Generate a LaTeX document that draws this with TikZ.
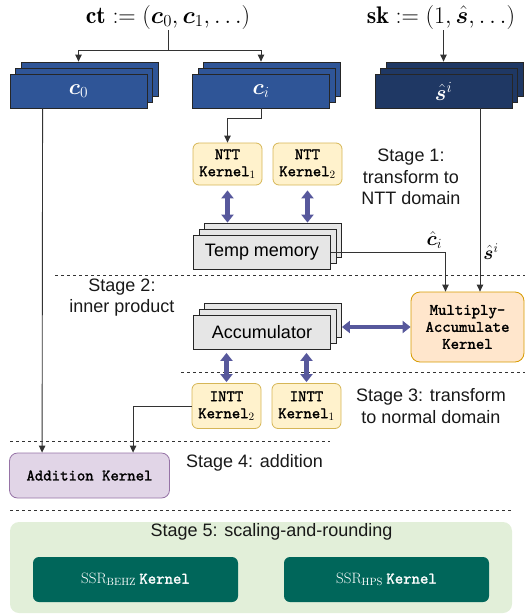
\RequirePackage{fix-cm}
\documentclass[tikz,border=0pt]{standalone}
\usepackage{amsmath,bm}
\usepackage{fontspec}
\newfontfamily\stagefont{Liberation Sans}
\newfontfamily\kernelmono{lmmono10-regular.otf}[FakeBold=1.6]
\usepackage{tikz}
\usetikzlibrary{arrows.meta}
\usetikzlibrary{shadows}
\usetikzlibrary{calc}
\usetikzlibrary{positioning}

\definecolor{ctblue}{HTML}{2F5597}
\definecolor{skblue}{HTML}{1F3864}
\definecolor{nttfill}{HTML}{FFF2CC}
\definecolor{nttdraw}{HTML}{D6B656}
\definecolor{macfill}{HTML}{FFE6CC}
\definecolor{macdraw}{HTML}{D79B00}
\definecolor{addfill}{HTML}{E1D5E7}
\definecolor{adddraw}{HTML}{9673A6}
\definecolor{stagegreen}{HTML}{E2EFD9}
\definecolor{ssrgreen}{HTML}{00665A}
\definecolor{memgray}{HTML}{E6E6E6}
\definecolor{dblblue}{HTML}{57589C}

\newcommand{\kernelfont}{\fontsize{16}{17}\selectfont\kernelmono}

\tikzset{
  title/.style={font=\fontsize{24}{26}\selectfont, inner sep=1pt},
  stack/.style={draw=black!85, line width=0.8pt, minimum width=137pt, minimum height=34pt,
    inner sep=0pt, text=white, font=\fontsize{22}{24}\selectfont,
    copy shadow={shadow xshift=11pt, shadow yshift=12pt},
    copy shadow={shadow xshift=5.5pt, shadow yshift=6pt}},
  memory/.style={stack, fill=memgray, text=black, font=\stagefont\fontsize{18}{21}\selectfont},
  kernel/.style={draw=nttdraw, fill=nttfill, rounded corners=6pt, line width=0.8pt,
    align=center, inner sep=0pt, minimum width=69pt, font=\kernelfont},
  stage/.style={align=center, inner sep=0pt, text=black!90, font=\stagefont\fontsize{18}{21.5}\selectfont},
  ssr/.style={fill=ssrgreen, rounded corners=6pt, minimum width=205pt, minimum height=45pt,
    text=white, inner sep=0pt},
  conn/.style={draw=black!80, line width=0.9pt},
  dbl/.style={draw=dblblue, line width=4.5pt,
    {Triangle[length=8pt,width=12pt]}-{Triangle[length=8pt,width=12pt]}},
  sep/.style={draw=black!80, line width=0.8pt, dash pattern=on 3pt off 3pt}
}

\begin{document}
\begin{tikzpicture}[x=1pt, y=-1pt, >={Triangle[length=7pt,width=6.5pt]}]
    \useasboundingbox (0,0) rectangle (525,614);

    % ciphertext and secret key
    \node[title] (ct) at (168,17) {$\mathbf{ct} := (\bm{c}_0, \bm{c}_1, \ldots)$};
    \node[title] (sk) at (441,17) {$\mathbf{sk} := (1, \hat{\bm{s}}, \ldots)$};

    % polynomial stacks
    \node[stack, fill=ctblue] (c0) at (78.5,91) {$\bm{c}_0$};
    \node[stack, fill=ctblue] (ci) at (261,91) {$\bm{c}_i$};
    \node[stack, fill=skblue] (si) at (443.5,91) {$\hat{\bm{s}}^i$};

    % stage 1: NTT
    \node[kernel, minimum height=42pt] (ntt1) at (227.5,164) {NTT\\Kernel$_1$};
    \node[kernel, minimum height=42pt] (ntt2) at (307.5,164) {NTT\\Kernel$_2$};
    \node[memory] (temp) at (262,252) {Temp memory};
    \node[stage] (st1) at (411,177) {Stage 1:\\transform to\\NTT domain};

    % stage 2: inner product
    \node[memory] (acc) at (262,332.5) {Accumulator};
    \node[kernel, draw=macdraw, fill=macfill, rounded corners=9pt, minimum width=113pt,
      minimum height=70pt] (mac) at (467.5,327) {Multiply-\\Accumulate\\Kernel};
    \node[stage] (st2) at (122,297.5) {Stage 2:\\inner product};

    % stage 3: INTT
    \node[kernel, minimum height=45pt] (intt2) at (226.5,406) {INTT\\Kernel$_2$};
    \node[kernel, minimum height=45pt] (intt1) at (306.5,406) {INTT\\Kernel$_1$};
    \node[stage] (st3) at (431,406) {Stage 3: transform\\to normal domain};

    % stage 4: addition
    \node[kernel, draw=adddraw, fill=addfill, rounded corners=8pt, minimum width=160pt,
      minimum height=45pt] (addk) at (89.5,475.5) {Addition Kernel};
    \node[stage, anchor=west] (st4) at (186,463) {Stage 4: addition};

    % stage 5: scaling and rounding
    \fill[stagegreen, rounded corners=9pt] (10,522) rectangle (512,613);
    \node[stage] (st5) at (271.5,532) {Stage 5: scaling-and-rounding};
    \node[ssr] (behz) at (135.5,579.5) {{\fontsize{15}{17}\selectfont$\mathrm{SSR}_{\mathrm{BEHZ}}$} {\kernelfont Kernel}};
    \node[ssr] (hps) at (386.5,579.5) {{\fontsize{15}{17}\selectfont$\mathrm{SSR}_{\mathrm{HPS}}$} {\kernelfont Kernel}};

    % stage separators
    \draw[sep] (55,275) -- (525,275);
    \draw[sep] (181,372) -- (525,372);
    \draw[sep] (10,441) -- (330,441);
    \draw[sep] (10,510) -- (512,510);

    % data flow
    \coordinate (split) at ($(c0.north -| ct.south)+(0,-23)$);
    \draw[conn] (ct.south) -- (split);
    \draw[conn,->] (split) -| ($(c0.north)+(0,-12)$);
    \draw[conn,->] (split) -| ($(ci.north)+(0,-12)$);
    \draw[conn,->] (sk.south -| si.north) -- ($(si.north)+(0,-12)$);
    \draw[conn,->] ($(c0.south west)+(33,0)$) -- ($(addk.north west)+(33,0)$);
    \draw[conn,->] (ci.south) -- ++(0,10) -| (ntt1.north);

    \coordinate (temptop) at ($(temp.north)+(0,-12)$);
    \draw[dbl] ($(ntt1.south)+(0,5)$) -- (ntt1.south |- temptop);
    \draw[dbl] ($(ntt2.south)+(0,5)$) -- (ntt2.south |- temptop);

    \coordinate (macin) at ($(mac.north)+(-22,0)$);
    \coordinate (skin) at ($(mac.north)+(12.5,0)$);
    \draw[conn,->] (temp.east) -- (temp.east -| macin)
      node[above left, inner sep=3pt, font=\fontsize{20}{22}\selectfont] {$\hat{\bm{c}}_i$} -- (macin);
    \draw[conn,->] (si.south -| skin) -- node[pos=0.78, right, inner sep=3pt,
      font=\fontsize{19}{21}\selectfont] {$\hat{\bm{s}}^i$} (skin);

    \coordinate (accback) at ($(acc.east)+(11,0)$);
    \draw[dbl] (mac.west) -- (mac.west -| accback);
    \draw[dbl] ($(intt2.north |- acc.south)+(0,3)$) -- ($(intt2.north)+(0,-1)$);
    \draw[dbl] ($(intt1.north |- acc.south)+(0,3)$) -- ($(intt1.north)+(0,-1)$);

    \draw[conn,->] (intt2.west) -| ($(addk.north west)+(124,0)$);
\end{tikzpicture}
\end{document}
